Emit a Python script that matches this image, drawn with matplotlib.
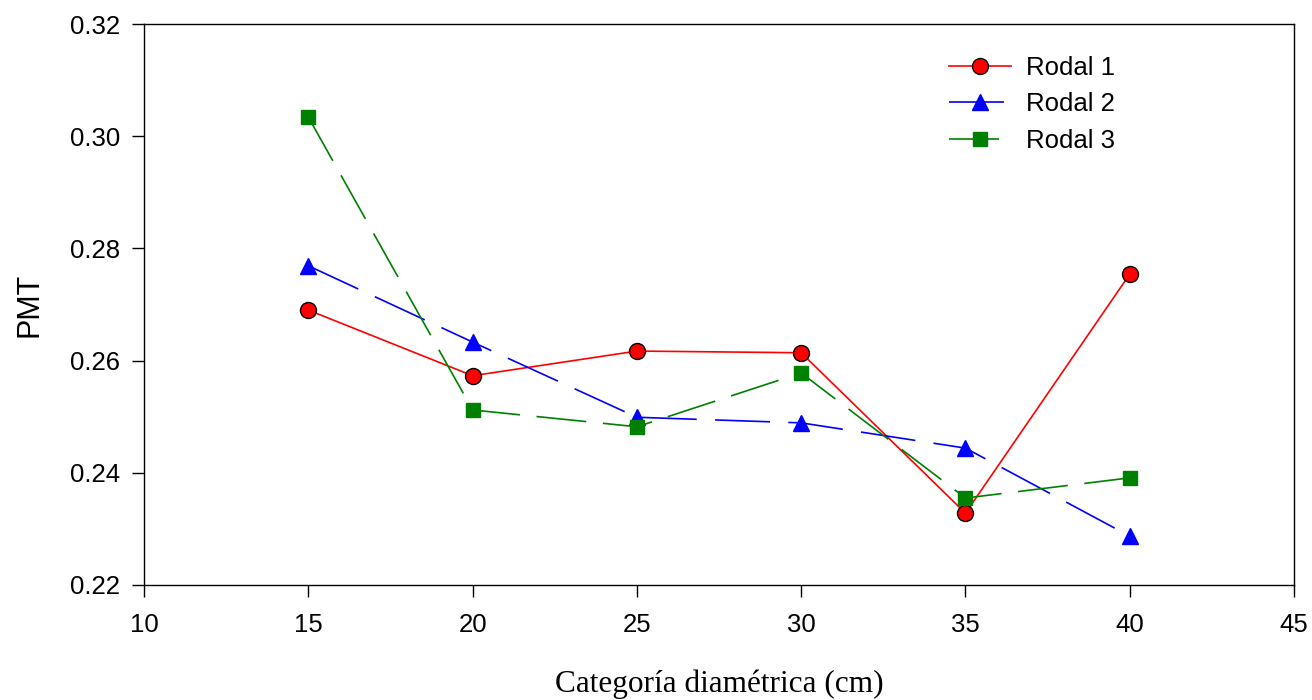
import matplotlib.pyplot as plt

# Categorías diamétricas (cm) y PMT por rodal
categorias = [15, 20, 25, 30, 35, 40]
rodal_1 = [0.2690, 0.2573, 0.2617, 0.2614, 0.2328, 0.2754]
rodal_2 = [0.2769, 0.2633, 0.2499, 0.2489, 0.2444, 0.2287]
rodal_3 = [0.3034, 0.2512, 0.2482, 0.2578, 0.2355, 0.2391]

plt.rcParams["font.family"] = ["Liberation Sans", "DejaVu Sans"]

fig = plt.figure(figsize=(13.12, 7.0), dpi=100)
ax = fig.add_axes([0.1098, 0.1643, 0.8765, 0.8014])

ax.plot(categorias, rodal_1, color="red", lw=1.2, marker="o", ms=11.5,
        mfc="red", mec="black", mew=1.0, label="Rodal 1")
l2, = ax.plot(categorias, rodal_2, color="blue", lw=1.2, marker="^", ms=12,
              mfc="blue", mec="blue", label="Rodal 2")
l2.set_dashes((33, 11))
l3, = ax.plot(categorias, rodal_3, color="green", lw=1.2, marker="s", ms=10,
              mfc="green", mec="green", label="Rodal 3")
l3.set_dashes((30, 10))

ax.set_xlim(10, 45)
ax.set_ylim(0.22, 0.32)
ax.set_xticks([10, 15, 20, 25, 30, 35, 40, 45])
ax.set_yticks([0.22, 0.24, 0.26, 0.28, 0.30, 0.32])
ax.set_yticklabels([f"{v:.2f}" for v in ax.get_yticks()])
ax.tick_params(axis="both", direction="out", length=8.5, width=1.0,
               labelsize=18.5, top=False, right=False)
ax.tick_params(axis="y", pad=9)
ax.tick_params(axis="x", pad=12)
for s in ax.spines.values():
    s.set_linewidth(1.0)

ax.set_ylabel("PMT", fontsize=22, labelpad=18)
ax.set_xlabel("Categoría diamétrica (cm)", fontsize=22.5,
              family=["Liberation Serif", "DejaVu Serif"], labelpad=23)

ax.legend(loc="upper left", bbox_to_anchor=(0.68, 0.985), frameon=False,
          fontsize=18.5, handlelength=2.4, labelspacing=0.5, handletextpad=0.6)

fig.savefig("out.png", dpi=100)
